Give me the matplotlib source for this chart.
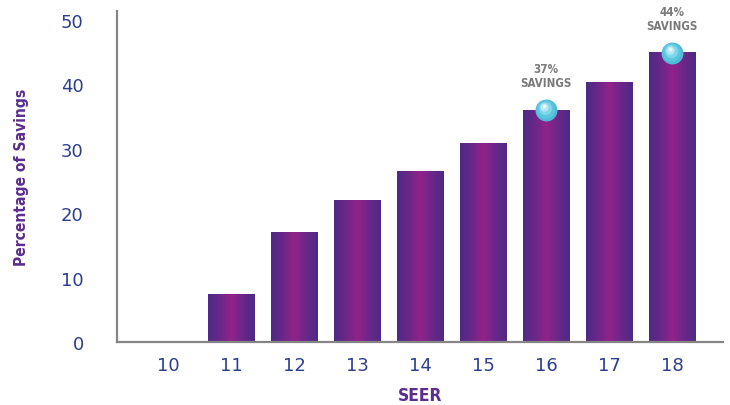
import matplotlib
matplotlib.use("Agg")
import matplotlib.pyplot as plt
import numpy as np
from matplotlib.colors import LinearSegmentedColormap
from matplotlib.transforms import offset_copy
from matplotlib.font_manager import FontProperties

seer = [10, 11, 12, 13, 14, 15, 16, 17, 18]
savings = [0, 7.3, 17.0, 22.0, 26.5, 30.8, 36.0, 40.3, 44.9]
highlights = {16: "37%\nSAVINGS", 18: "44%\nSAVINGS"}
yticks = [0, 10, 20, 30, 40, 50]

fig = plt.figure(figsize=(7.3, 4.06), dpi=100)
ax = fig.add_axes([117/730, 1 - 343/406, (723-117)/730, (343-12)/406])

cmap = LinearSegmentedColormap.from_list("bar", ["#4d2a85", "#6a2789", "#93228a", "#6a2789", "#4d2a85"])
grad = np.linspace(0, 1, 256).reshape(1, -1)
width = 0.74
for x, v in zip(seer, savings):
    if v <= 0:
        continue
    ax.imshow(grad, cmap=cmap, aspect="auto", extent=[x - width/2, x + width/2, 0, v],
              interpolation="bicubic", zorder=2)

ax.set_xlim(9.19, 18.81)
ax.set_ylim(0, 51.4)

def cond(size, color):
    return dict(fontproperties=FontProperties(family="DejaVu Sans", stretch="condensed",
                                              weight="bold", size=size), color=color)

# spheres and labels
layers = [(1.0, "#4fb9d6", 0, 0), (0.85, "#5cc6e0", 0.4, 0.7), (0.6, "#80d6ea", 0.9, 1.6),
          (0.38, "#b5e8f4", 1.3, 2.4), (0.18, "#eefafd", 1.6, 3.0)]
for x, v in zip(seer, savings):
    if x in highlights:
        for frac, col, dx, dy in layers:
            tr = offset_copy(ax.transData, fig=fig, x=-dx, y=dy, units="points")
            ax.scatter([x], [v], s=250 * frac**2, color=col, linewidths=0, zorder=5, transform=tr)
        tr = offset_copy(ax.transData, fig=fig, x=0, y=15, units="points")
        ax.text(x, v, highlights[x], transform=tr, ha="center", va="bottom",
                linespacing=1.15, zorder=6, **cond(8.3, "#7a7a7a"))

ax.set_xticks(seer)
ax.set_xticklabels([str(s) for s in seer])
ax.set_yticks(yticks)
ax.set_yticklabels([str(t) for t in yticks])
ax.tick_params(length=0, labelsize=13, labelcolor="#2c3e8e")
ax.tick_params(axis="y", pad=24)
ax.tick_params(axis="x", pad=10)

for s in ["top", "right"]:
    ax.spines[s].set_visible(False)
for s in ["left", "bottom"]:
    ax.spines[s].set_color("#858585")
    ax.spines[s].set_linewidth(1.6)

ax.set_xlabel("SEER", labelpad=9, **cond(12.5, "#5a2d8f"))
ax.set_ylabel("Percentage of Savings", labelpad=23, **cond(11.2, "#5a2d8f"))

fig.savefig("out.png", dpi=100)
